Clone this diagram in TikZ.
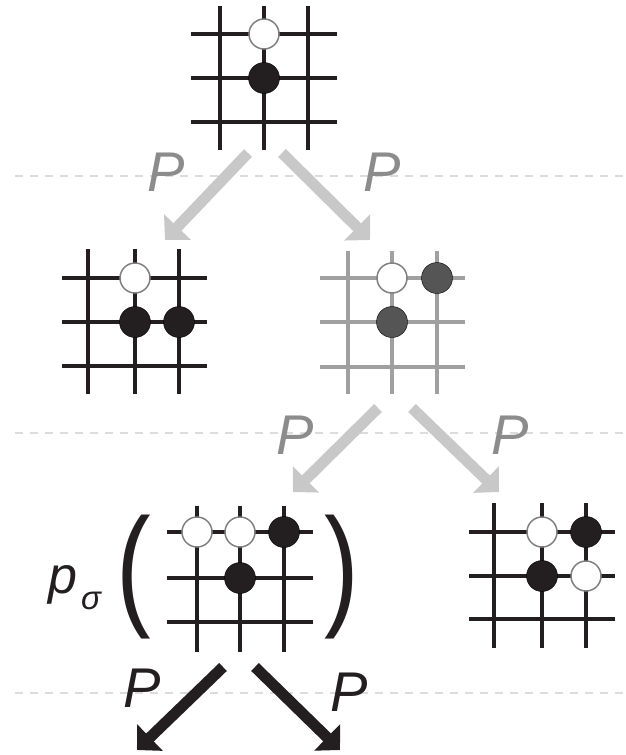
\documentclass[tikz,border=0pt]{standalone}
\usepackage{fontspec}
\setmainfont{Liberation Sans}
\usetikzlibrary{arrows.meta}
\definecolor{ink}{HTML}{231F20}
\definecolor{lightarrow}{HTML}{C8C8C8}
\definecolor{graylabel}{HTML}{8C8C8C}
\definecolor{grayline}{HTML}{A0A0A0}
\definecolor{graystone}{HTML}{555555}
\definecolor{sepline}{HTML}{DCDCDC}
\tikzset{
  gridline/.style={line width=4.5pt, draw=ink},
  graygrid/.style={line width=4.5pt, draw=grayline},
  wstone/.style={fill=white, draw=gray, line width=1.5pt},
  bstone/.style={fill=ink},
  gstone/.style={fill=graystone},
  movearrow/.style={line width=11pt, -{Triangle[length=18pt,width=36pt]}},
  lightmove/.style={movearrow, draw=lightarrow, fill=lightarrow},
  darkmove/.style={movearrow, draw=ink, fill=ink},
  plabel/.style={font=\fontsize{56}{56}\selectfont\itshape, inner sep=0pt},
  separator/.style={draw=sepline, line width=1.6pt, dash pattern=on 8pt off 7pt},
  paren/.style={font=\fontsize{104}{104}\selectfont, inner sep=0pt, text=ink}
}
\begin{document}
\begin{tikzpicture}[x=1pt,y=-1pt]
\useasboundingbox (0,0) rectangle (626,755);
% separators
\draw[separator] (15,176) -- (626,176);
\draw[separator] (15,433) -- (626,433);
\draw[separator] (15,693) -- (626,693);
% board 1
\foreach \x in {220,264,308} \draw[gridline] (\x,6) -- (\x,150);
\foreach \y in {34,78,122} \draw[gridline] (191,\y) -- (337,\y);
\draw[wstone] (264,34) circle (15);
\draw[bstone] (264,78) circle (15.5);
% board 2
\foreach \x in {88,135,179} \draw[gridline] (\x,249) -- (\x,394);
\foreach \y in {278,322,366} \draw[gridline] (62,\y) -- (207,\y);
\draw[wstone] (135,278) circle (15);
\draw[bstone] (135,322) circle (15.5);
\draw[bstone] (179,322) circle (15.5);
% board 3 (gray)
\foreach \x in {348,392,437} \draw[graygrid] (\x,251) -- (\x,394);
\foreach \y in {278,322,367} \draw[graygrid] (320,\y) -- (465,\y);
\draw[wstone] (392,278) circle (15);
\draw[gstone] (437,278) circle (15.5);
\draw[gstone] (392,322) circle (15.5);
% board 4
\foreach \x in {197,240,284} \draw[gridline] (\x,506) -- (\x,652);
\foreach \y in {532,578,622} \draw[gridline] (167,\y) -- (313,\y);
\draw[wstone] (197,532) circle (15);
\draw[wstone] (240,532) circle (15);
\draw[bstone] (284,532) circle (15.5);
\draw[bstone] (240,578) circle (15.5);
% board 5
\foreach \x in {494,542,586} \draw[gridline] (\x,503) -- (\x,648);
\foreach \y in {532,576,619} \draw[gridline] (469,\y) -- (615,\y);
\draw[wstone] (542,532) circle (15);
\draw[bstone] (586,532) circle (15.5);
\draw[bstone] (542,576) circle (15.5);
\draw[wstone] (586,576) circle (15);
% p_sigma ( ... )
\node[paren] (lp) at (134,577) {\scalebox{1}[1.28]{(}};
\node[paren] (rp) at (342,577) {\scalebox{1}[1.28]{)}};
\node[inner sep=0pt, text=ink, font=\fontsize{52}{52}\selectfont\itshape] (p) at (63,585) {p};
\node[inner sep=0pt, text=ink, font=\fontsize{33}{33}\selectfont\itshape] (sig) at (91,601) {σ};
% arrow coordinates
\coordinate (r1ls) at (248,153); \coordinate (r1le) at (165,240);
\coordinate (r1rs) at (282,153); \coordinate (r1re) at (370,240);
\coordinate (r2ls) at (378,408); \coordinate (r2le) at (293,492);
\coordinate (r2rs) at (412,408); \coordinate (r2re) at (499,492);
\coordinate (r3ls) at (223,667); \coordinate (r3le) at (137,750);
\coordinate (r3rs) at (255,667); \coordinate (r3re) at (340,750);
\draw[lightmove] (r1ls) -- (r1le);
\draw[lightmove] (r1rs) -- (r1re);
\draw[lightmove] (r2ls) -- (r2le);
\draw[lightmove] (r2rs) -- (r2re);
\draw[darkmove] (r3ls) -- (r3le);
\draw[darkmove] (r3rs) -- (r3re);
% labels
\node[plabel, text=graylabel] (l1) at (166,172) {P};
\node[plabel, text=graylabel] (l2) at (382,172) {P};
\node[plabel, text=graylabel] (l3) at (295,435) {P};
\node[plabel, text=graylabel] (l4) at (510,435) {P};
\node[plabel, text=ink] (l5) at (142,688) {P};
\node[plabel, text=ink] (l6) at (349,692) {P};
\end{tikzpicture}
\end{document}
